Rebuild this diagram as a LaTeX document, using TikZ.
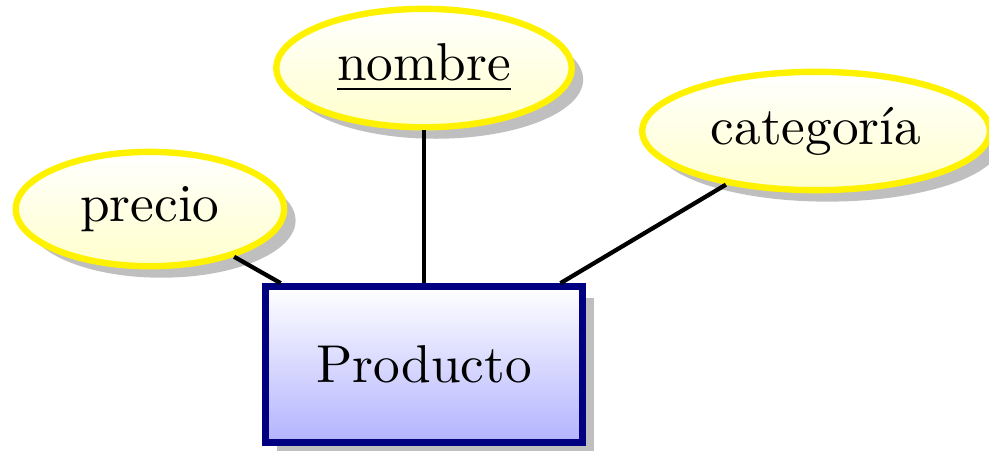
\documentclass[tikz,border=0pt]{standalone}
\usepackage{tikz}
\usetikzlibrary{shapes.geometric,shadows}
\usepackage{amsmath}

\begin{document}
\begin{tikzpicture}[
    entidad/.style={rectangle,draw=blue!50!black,very thick,
      top color=white,bottom color=blue!30,drop shadow,
      minimum width=2.09cm,minimum height=1.03cm},
    atributo/.style={ellipse,draw=yellow,very thick,
      top color=white,bottom color=yellow!20,drop shadow,
      minimum width=1.77cm}]
			\useasboundingbox (0,0) rectangle (6.524,-2.975);

			\node[entidad] (producto) at (2.797,-2.404) {Producto};
			\node[atributo] (nombre) at (2.797,-0.449) {\underline{nombre}};
			\node[atributo] (categoria) at (5.383,-0.864) {categoría};
			\node[atributo] (precio) at (0.989,-1.379) {precio};

			\draw[thick] (producto) -- (nombre);
			\draw[thick] (producto) -- (categoria);
			\draw[thick] (producto) -- (precio);
		  \end{tikzpicture}
\end{document}
